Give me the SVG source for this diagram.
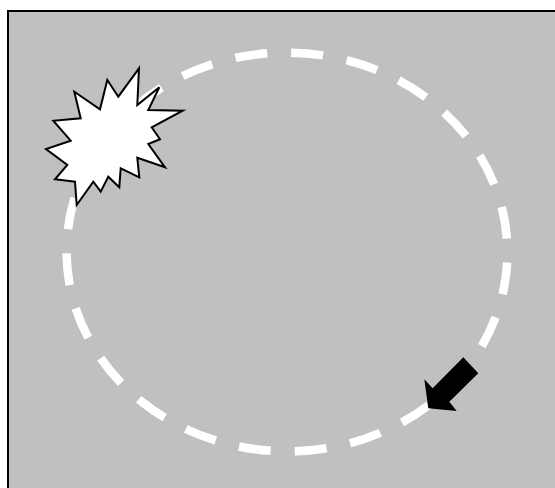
<svg xmlns="http://www.w3.org/2000/svg" width="555" height="488" viewBox="0 0 555 488">
  <style>
    .frame { fill: #c0c0c0; stroke: #000000; stroke-width: 2; }
    .orbit { fill: none; stroke: #ffffff; stroke-width: 8.5; stroke-dasharray: 32 24; stroke-dashoffset: 34.8; }
    .burst { fill: #ffffff; stroke: #000000; stroke-width: 2; stroke-linejoin: miter; }
    .arrow { fill: #000000; stroke: none; }
  </style>
  <rect id="frame" class="frame" x="8" y="11" width="600" height="600"/>
  <g id="connectors">
    <path id="orbit" class="orbit" d="M120.2,120.8 A221,200 0 0 1 453.8,383.2 A221,200 0 0 1 120.2,120.8 Z"/>
  </g>
  <g id="burst">
    <polygon class="burst" points="139,68.3 137.3,105 159.3,87.3 148.3,110 182.7,110.7 151.7,127.3 160,139.3 148.3,144 165,167.3 137.3,157.7 139.3,177.3 120.7,168.3 119.3,187.3 108.3,176.7 100.7,191.7 93.3,181.7 76.7,205 75,181.7 55,179.3 67.3,165 46,149 70.7,140.7 53.3,120.7 80.7,118.3 74.3,91.7 100,109.3 107.3,80 118.3,96.7"/>
  </g>
  <g id="arrow">
    <polygon class="arrow" points="463.3,357.3 478.3,373.3 449.3,401.7 456.7,411 428.3,408.3 424.3,379.3 432.7,388.3"/>
  </g>
</svg>
